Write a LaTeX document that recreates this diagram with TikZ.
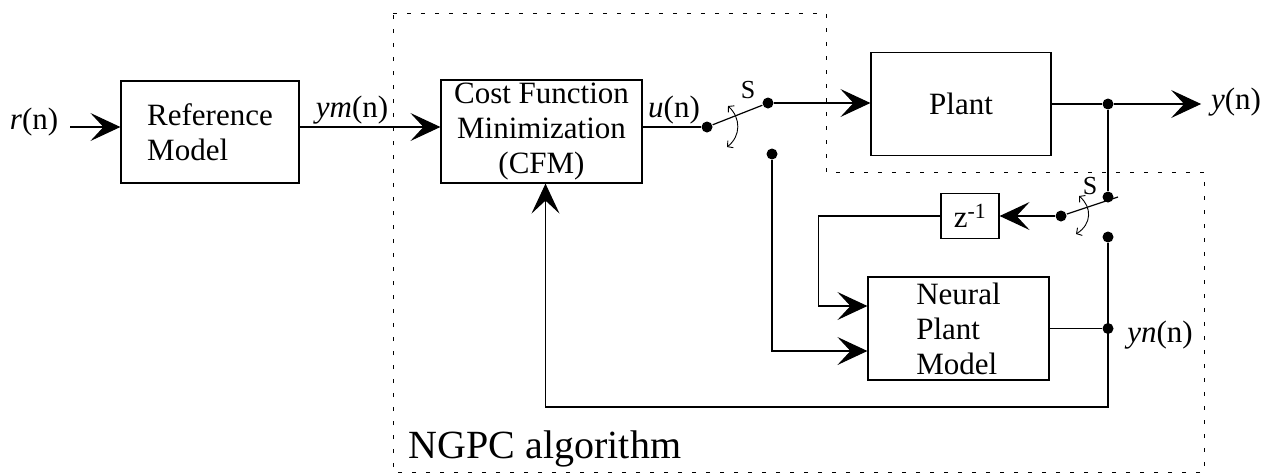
\documentclass[tikz,border=0pt]{standalone}
\usepackage{fontspec}
\setmainfont{Liberation Serif}
\usetikzlibrary{arrows.meta}
\begin{document}
\begin{tikzpicture}[x=1pt,y=-1pt,line width=1.2pt,
    font=\fontsize{31}{35}\selectfont,
    block/.style={draw,rectangle,inner sep=0pt},
    dot/.style={circle,fill,inner sep=0pt,minimum size=11pt},
    arr/.style={-{Stealth[length=30pt,width=28pt,inset=13pt]}},
    swing/.style={{Straight Barb[length=4pt,width=9pt]}-{Straight Barb[length=4pt,width=9pt]},line width=0.9pt},
    region/.style={line width=1pt,dash pattern=on 4pt off 10pt}]
\useasboundingbox (0,0) rectangle (1265,475);

% NGPC boundary
\draw[region] (393,13) -- (826,13) -- (826,172) -- (1204,172) -- (1204,472) -- (393,472) -- cycle;
\node[font=\fontsize{40}{44}\selectfont,anchor=base west] (ngpc) at (405,458) {NGPC algorithm};

% blocks
\node[block,minimum width=178pt,minimum height=102pt,align=left] (ref) at (210,132) {Reference\\Model};
\node[block,minimum width=201pt,minimum height=103pt,align=center] (cfm) at (541.5,131.5) {Cost Function\\Minimization\\(CFM)};
\node[block,minimum width=180pt,minimum height=103pt] (plant) at (961,104) {Plant};
\node[block,minimum width=58pt,minimum height=45pt] (zinv) at (970,216) {z\textsuperscript{-1}};
\node[block,minimum width=181pt,minimum height=103pt,align=left] (npm) at (958.5,328.5) {Neural\\Plant\\Model};

% switch contacts and junctions
\node[dot] (sw1a) at (707,127) {};
\node[dot] (sw1b) at (768,103) {};
\node[dot] (sw1c) at (772,154) {};
\node[dot] (jy) at (1108,104) {};
\node[dot] (sw2b) at (1108,197) {};
\node[dot] (sw2a) at (1061,216) {};
\node[dot] (sw2c) at (1108,237) {};
\node[dot] (jyn) at (1108,328.5) {};

% signal labels
\node (rn) at (34,122) {\textit{r}(n)};
\node (ymn) at (352,110) {\textit{ym}(n)};
\node (un) at (674,110) {\textit{u}(n)};
\node (yout) at (1236,102) {\textit{y}(n)};
\node (ynn) at (1160,335) {\textit{yn}(n)};
\node[font=\fontsize{26}{28}\selectfont] (s1) at (748,90) {S};
\node[font=\fontsize{26}{28}\selectfont] (s2) at (1090,186) {S};

\coordinate (main) at (0,127);

% forward path
\draw[arr] ([xshift=8pt]rn.east |- main) -- (ref.west |- main);
\draw[arr] (ref.east |- main) -- (cfm.west |- main);
\draw (cfm.east |- main) -- (sw1a);
\draw (sw1a) -- (sw1b);
\draw[arr] (sw1b) -- (sw1b -| plant.west);
\draw (plant.east |- jy) -- (jy);
\draw[arr,shorten >=6pt] (jy) -- (jy -| yout.west);

% model path
\draw (jy) -- (sw2b);
\draw (sw2a) -- ++(57,-19);
\draw[arr] (sw2a) -- (zinv.east);
\draw[arr] (zinv.west) -- ++(-122,0) |- ([yshift=22.5pt]npm.west);
\draw[arr] (sw1c) |- ([yshift=-22.5pt]npm.west);
\draw (npm.east) -- (jyn);
\draw[arr] (sw2c) -- ++(0,170) -| ([xshift=4pt]cfm.south);

% switch swings
\draw[swing] (728,106) .. controls (741,118) and (741,136) .. (727,147);
\draw[swing] (1079,196) .. controls (1092,207) and (1092,224) .. (1076,234);
\end{tikzpicture}
\end{document}
